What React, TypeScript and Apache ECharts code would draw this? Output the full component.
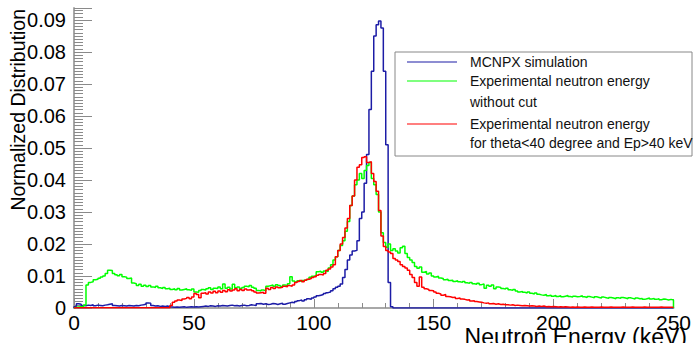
import React, { useEffect, useRef } from "react";
import * as echarts from "echarts";

// bin lower edges 0..249 keV, 1 keV bins
const mcnpx: number[] = [
  0.0004,0.0013,0.0012,0.0008,0.0007,0.0009,0.0008,0.0010,0.0007,0.0009,
  0.0008,0.0007,0.0009,0.0010,0.0012,0.0013,0.0008,0.0007,0.0006,0.0008,
  0.0007,0.0006,0.0008,0.0007,0.0006,0.0008,0.0007,0.0009,0.0010,0.0012,
  0.0016,0.0015,0.0008,0.0006,0.0007,0.0005,0.0006,0.0005,0.0006,0.0004,
  0.0003,0.0002,0.0003,0.0002,0.0003,0.0004,0.0002,0.0003,0.0004,0.0003,
  0.0004,0.0003,0.0004,0.0005,0.0006,0.0005,0.0007,0.0006,0.0005,0.0007,
  0.0006,0.0008,0.0007,0.0006,0.0008,0.0009,0.0007,0.0008,0.0006,0.0008,
  0.0009,0.0007,0.0008,0.0010,0.0009,0.0008,0.0013,0.0014,0.0012,0.0013,
  0.0011,0.0012,0.0014,0.0013,0.0011,0.0013,0.0015,0.0012,0.0014,0.0016,
  0.0018,0.0016,0.0020,0.0023,0.0025,0.0022,0.0026,0.0029,0.0027,0.0031,
  0.0034,0.0038,0.0040,0.0042,0.0045,0.0048,0.0050,0.0054,0.0060,0.0065,
  0.0068,0.0075,0.0095,0.0120,0.0150,0.0166,0.0178,0.0180,0.0210,0.0280,
  0.0300,0.0390,0.0480,0.0620,0.0740,0.0850,0.0885,0.0897,0.0875,0.0740,
  0.0510,0.0080,0.0004,0,0,0,0,0,0,0,
  0,0,0,0,0,0,0,0,0,0,
  0,0,0,0,0,0,0,0,0,0,
  0,0,0,0,0,0,0,0,0,0,
  0,0,0,0,0,0,0,0,0,0,
  0,0,0,0,0,0,0,0,0,0,
  0,0,0,0,0,0,0,0,0,0,
  0,0,0,0,0,0,0,0,0,0,
  0,0,0,0,0,0,0,0,0,0,
  0,0,0,0,0,0,0,0,0,0,
  0,0,0,0,0,0,0,0,0,0,
  0,0,0,0,0,0,0,0,0,0,
];

const expNoCut: number[] = [
  0.0002,0.0003,0.0004,0.0005,0.0009,0.0072,0.0080,0.0082,0.0088,0.0090,
  0.0093,0.0097,0.0100,0.0108,0.0118,0.0117,0.0108,0.0104,0.0101,0.0105,
  0.0098,0.0096,0.0092,0.0094,0.0078,0.0076,0.0070,0.0074,0.0068,0.0071,
  0.0067,0.0070,0.0066,0.0064,0.0068,0.0063,0.0061,0.0064,0.0060,0.0062,
  0.0058,0.0060,0.0057,0.0061,0.0056,0.0058,0.0060,0.0057,0.0055,0.0059,
  0.0050,0.0049,0.0055,0.0058,0.0056,0.0060,0.0063,0.0058,0.0062,0.0061,
  0.0066,0.0060,0.0075,0.0062,0.0065,0.0059,0.0074,0.0063,0.0066,0.0061,
  0.0064,0.0068,0.0066,0.0070,0.0065,0.0062,0.0055,0.0053,0.0056,0.0054,
  0.0068,0.0070,0.0072,0.0068,0.0073,0.0070,0.0067,0.0072,0.0070,0.0076,
  0.0098,0.0084,0.0081,0.0085,0.0083,0.0086,0.0088,0.0090,0.0096,0.0099,
  0.0101,0.0113,0.0115,0.0112,0.0116,0.0114,0.0125,0.0135,0.0150,0.0160,
  0.0180,0.0195,0.0210,0.0240,0.0270,0.0320,0.0350,0.0385,0.0400,0.0420,
  0.0405,0.0430,0.0445,0.0455,0.0405,0.0385,0.0355,0.0300,0.0235,0.0205,
  0.0190,0.0200,0.0180,0.0185,0.0178,0.0172,0.0188,0.0193,0.0170,0.0158,
  0.0150,0.0142,0.0130,0.0124,0.0128,0.0112,0.0114,0.0106,0.0109,0.0100,
  0.0097,0.0099,0.0094,0.0092,0.0088,0.0090,0.0086,0.0087,0.0083,0.0085,
  0.0082,0.0080,0.0083,0.0079,0.0077,0.0080,0.0076,0.0074,0.0077,0.0073,
  0.0075,0.0062,0.0071,0.0068,0.0072,0.0060,0.0066,0.0064,0.0061,0.0059,
  0.0062,0.0057,0.0055,0.0058,0.0053,0.0050,0.0052,0.0049,0.0047,0.0050,
  0.0046,0.0044,0.0047,0.0043,0.0041,0.0040,0.0042,0.0038,0.0040,0.0037,
  0.0039,0.0036,0.0038,0.0035,0.0037,0.0039,0.0036,0.0034,0.0037,0.0035,
  0.0036,0.0038,0.0035,0.0033,0.0036,0.0034,0.0032,0.0035,0.0033,0.0031,
  0.0034,0.0032,0.0030,0.0033,0.0031,0.0029,0.0032,0.0030,0.0033,0.0031,
  0.0029,0.0032,0.0030,0.0028,0.0031,0.0029,0.0030,0.0027,0.0029,0.0031,
  0.0028,0.0030,0.0027,0.0029,0.0026,0.0028,0.0027,0.0025,0.0027,0.0025,
];

const expCut: number[] = [
  0.0001,0.0001,0.0001,0.0001,0.0001,0.0001,0.0001,0.0001,0.0001,0.0001,
  0.0001,0.0001,0.0001,0.0001,0.0001,0.0001,0.0001,0.0001,0.0001,0.0001,
  0.0001,0.0001,0.0001,0.0001,0.0001,0.0001,0.0001,0.0001,0.0001,0.0001,
  0.0001,0.0001,0.0001,0.0001,0.0001,0.0001,0.0001,0.0001,0.0001,0.0001,
  0.0008,0.0018,0.0022,0.0025,0.0023,0.0028,0.0030,0.0033,0.0029,0.0034,
  0.0045,0.0042,0.0032,0.0046,0.0048,0.0044,0.0050,0.0047,0.0052,0.0048,
  0.0053,0.0049,0.0055,0.0051,0.0057,0.0053,0.0056,0.0060,0.0054,0.0058,
  0.0055,0.0059,0.0056,0.0058,0.0054,0.0050,0.0047,0.0048,0.0049,0.0046,
  0.0062,0.0058,0.0064,0.0061,0.0066,0.0063,0.0065,0.0068,0.0066,0.0070,
  0.0068,0.0072,0.0080,0.0083,0.0086,0.0082,0.0087,0.0090,0.0092,0.0095,
  0.0098,0.0102,0.0105,0.0103,0.0108,0.0118,0.0122,0.0128,0.0135,0.0160,
  0.0180,0.0200,0.0220,0.0250,0.0280,0.0320,0.0350,0.0400,0.0440,0.0448,
  0.0470,0.0473,0.0455,0.0457,0.0420,0.0395,0.0365,0.0305,0.0225,0.0192,
  0.0180,0.0175,0.0170,0.0155,0.0150,0.0145,0.0135,0.0130,0.0125,0.0118,
  0.0105,0.0095,0.0080,0.0068,0.0097,0.0065,0.0060,0.0058,0.0055,0.0054,
  0.0050,0.0046,0.0044,0.0040,0.0042,0.0036,0.0035,0.0033,0.0034,0.0030,
  0.0031,0.0028,0.0027,0.0025,0.0026,0.0022,0.0023,0.0020,0.0019,0.0018,
  0.0016,0.0015,0.0016,0.0013,0.0014,0.0012,0.0013,0.0011,0.0012,0.0010,
  0.0010,0.0009,0.0010,0.0008,0.0009,0.0008,0.0007,0.0008,0.0007,0.0006,
  0.0007,0.0006,0.0005,0.0006,0.0005,0.0006,0.0004,0.0005,0.0004,0.0005,
  0.0004,0.0003,0.0004,0.0003,0.0004,0.0003,0.0002,0.0003,0.0002,0.0003,
  0.0002,0.0002,0.0003,0.0002,0.0002,0.0003,0.0002,0.0002,0.0002,0.0003,
  0.0002,0.0002,0.0002,0.0003,0.0002,0.0002,0.0002,0.0002,0.0003,0.0002,
  0.0002,0.0002,0.0003,0.0002,0.0002,0.0002,0.0002,0.0003,0.0002,0.0002,
  0.0002,0.0002,0.0002,0.0002,0.0003,0.0002,0.0002,0.0002,0.0002,0.0002,
];

const xMin = 0;
const xMax = 250;
const binWidth = 1;
const yMax = 0.09375;
const xTitle = "Neutron Energy (keV)";
const yTitle = "Normalized Distribution";
const legendLabels = [
  ["MCNPX simulation"],
  ["Experimental neutron energy", "without cut"],
  ["Experimental neutron energy", "for theta<40 degree and Ep>40 keV"],
];

const BLUE = "#1c1ca6";
const GREEN = "#00ff00";
const RED = "#ff0000";
const FONT = "'Liberation Sans', Arial, Helvetica, sans-serif";

function histPoints(vals: number[]): number[][] {
  const pts: number[][] = [[xMin, 0]];
  vals.forEach((v, i) => pts.push([xMin + i * binWidth, v]));
  pts.push([xMin + vals.length * binWidth, vals[vals.length - 1]]);
  pts.push([xMin + vals.length * binWidth, 0]);
  return pts;
}

export default function App() {
  const ref = useRef<HTMLDivElement>(null);
  useEffect(() => {
    if (!ref.current) return;
    const chart = echarts.init(ref.current, undefined, { renderer: "svg" });
    const mkSeries = (name: string, vals: number[], color: string, z: number) => ({
      name,
      type: "line",
      step: "end",
      data: histPoints(vals),
      showSymbol: false,
      symbol: "none",
      lineStyle: { color, width: 1.5 },
      z,
      clip: true,
    });
    const legendX = 395, legendY = 52, legendW = 297, legendH = 104;
    const lineYs = [62, 81, 124];
    const textRows: { t: string; y: number }[] = [
      { t: legendLabels[0][0], y: 62 },
      { t: legendLabels[1][0], y: 81 },
      { t: legendLabels[1][1], y: 102 },
      { t: legendLabels[2][0], y: 124 },
      { t: legendLabels[2][1], y: 143 },
    ];
    const colors = [BLUE, GREEN, RED];
    chart.setOption({
      animation: false,
      backgroundColor: "#ffffff",
      grid: { left: 74, right: 18, top: 8, bottom: 35, containLabel: false },
      xAxis: {
        type: "value",
        min: xMin,
        max: xMax,
        interval: 50,
        axisLine: { show: true, onZero: false, lineStyle: { color: "#a8a8a8", width: 2 } },
        axisTick: { show: true, inside: true, length: 9, lineStyle: { color: "#8a8a8a", width: 1 } },
        minorTick: { show: true, splitNumber: 5, length: 5, lineStyle: { color: "#8a8a8a", width: 1 } },
        splitLine: { show: false },
        axisLabel: { color: "#000", fontSize: 21, fontFamily: FONT, margin: 4 },
      },
      yAxis: {
        type: "value",
        min: 0,
        max: yMax,
        interval: 0.01,
        axisLine: { show: true, lineStyle: { color: "#a8a8a8", width: 2 } },
        axisTick: { show: true, inside: true, length: 18, lineStyle: { color: "#8a8a8a", width: 1 } },
        minorTick: { show: true, splitNumber: 10, length: 9, lineStyle: { color: "#8a8a8a", width: 1 } },
        splitLine: { show: false },
        axisLabel: {
          color: "#000",
          fontSize: 20,
          fontFamily: FONT,
          margin: 8,
          showMaxLabel: false,
          formatter: (v: number) => {
            if (Math.abs(v) < 1e-9) return "0";
            const k = v * 100;
            return Math.abs(k - Math.round(k)) < 1e-6 ? v.toFixed(2) : "";
          },
        },
      },
      series: [
        mkSeries("MCNPX simulation", mcnpx, BLUE, 2),
        mkSeries("Experimental neutron energy without cut", expNoCut, GREEN, 3),
        mkSeries("Experimental neutron energy for theta<40 degree and Ep>40 keV", expCut, RED, 4),
      ],
      graphic: [
        {
          type: "text",
          x: 18,
          y: 9,
          rotation: Math.PI / 2,
          style: { text: yTitle, fill: "#000", fontSize: 19.5, fontFamily: FONT, align: "right", verticalAlign: "middle" },
        },
        {
          type: "text",
          x: 687,
          y: 337,
          style: { text: xTitle, fill: "#000", fontSize: 23, fontFamily: FONT, align: "right", verticalAlign: "middle" },
        },
        {
          type: "rect",
          shape: { x: legendX, y: legendY, width: legendW, height: legendH },
          style: { fill: "#ffffff", stroke: "#888888", lineWidth: 1 },
          z: 100,
        },
        ...lineYs.map((ly, i) => ({
          type: "line",
          shape: { x1: 407, y1: ly, x2: 457, y2: ly },
          style: { stroke: colors[i], lineWidth: 1.2 },
          z: 101,
        })),
        ...textRows.map((r) => ({
          type: "text",
          x: 470,
          y: r.y,
          style: { text: r.t, fill: "#111", fontSize: 14, fontFamily: FONT, align: "left", verticalAlign: "middle" },
          z: 101,
        })),
      ],
    });
    return () => chart.dispose();
  }, []);
  return (
    <div
      ref={ref}
      style={{ position: "fixed", left: 0, top: 0, width: 694, height: 343, background: "#fff" }}
    />
  );
}
